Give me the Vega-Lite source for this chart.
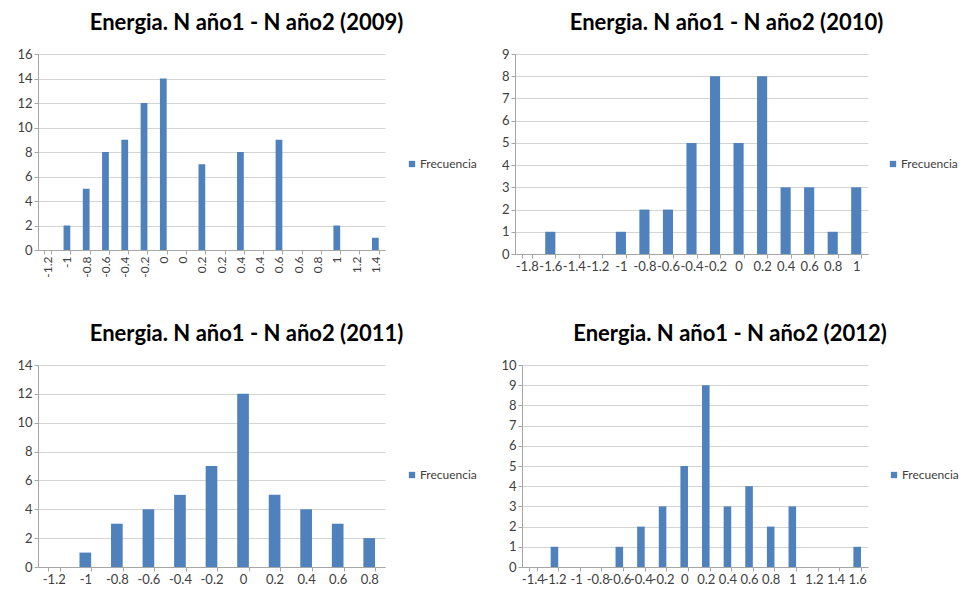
{
  "$schema": "https://vega.github.io/schema/vega-lite/v6.json",
  "background": "white",
  "padding": {"left": 8, "top": 12, "right": 0, "bottom": 0},
  "config": {
    "font": "Lato",
    "view": {"stroke": null},
    "title": {"font": "Lato", "fontWeight": "bold", "fontSize": 22, "color": "#000000", "anchor": "middle", "dx": 35, "offset": 13},
    "axis": {"labelFont": "Lato", "labelFontSize": 13, "labelColor": "#404040", "domainColor": "#a6a6a6", "tickColor": "#a6a6a6", "gridColor": "#d4d4d4", "tickSize": 4, "labelPadding": 2, "title": null},
    "legend": {"labelFont": "Lato", "labelFontSize": 12, "labelColor": "#404040", "symbolType": "square", "symbolSize": 40, "symbolStrokeWidth": 0, "labelOffset": 2, "title": null, "orient": "none"}
  },
  "datasets": {
    "y2009": [
      {"clase": "01|-1.2", "frecuencia": 0},
      {"clase": "02|-1", "frecuencia": 2},
      {"clase": "03|-0.8", "frecuencia": 5},
      {"clase": "04|-0.6", "frecuencia": 8},
      {"clase": "05|-0.4", "frecuencia": 9},
      {"clase": "06|-0.2", "frecuencia": 12},
      {"clase": "07|0", "frecuencia": 14},
      {"clase": "08|0", "frecuencia": 0},
      {"clase": "09|0.2", "frecuencia": 7},
      {"clase": "10|0.2", "frecuencia": 0},
      {"clase": "11|0.4", "frecuencia": 8},
      {"clase": "12|0.4", "frecuencia": 0},
      {"clase": "13|0.6", "frecuencia": 9},
      {"clase": "14|0.6", "frecuencia": 0},
      {"clase": "15|0.8", "frecuencia": 0},
      {"clase": "16|1", "frecuencia": 2},
      {"clase": "17|1.2", "frecuencia": 0},
      {"clase": "18|1.4", "frecuencia": 1}
    ],
    "y2010": [
      {"clase": "-1.8", "frecuencia": 0},
      {"clase": "-1.6", "frecuencia": 1},
      {"clase": "-1.4", "frecuencia": 0},
      {"clase": "-1.2", "frecuencia": 0},
      {"clase": "-1", "frecuencia": 1},
      {"clase": "-0.8", "frecuencia": 2},
      {"clase": "-0.6", "frecuencia": 2},
      {"clase": "-0.4", "frecuencia": 5},
      {"clase": "-0.2", "frecuencia": 8},
      {"clase": "0", "frecuencia": 5},
      {"clase": "0.2", "frecuencia": 8},
      {"clase": "0.4", "frecuencia": 3},
      {"clase": "0.6", "frecuencia": 3},
      {"clase": "0.8", "frecuencia": 1},
      {"clase": "1", "frecuencia": 3}
    ],
    "y2011": [
      {"clase": "-1.2", "frecuencia": 0},
      {"clase": "-1", "frecuencia": 1},
      {"clase": "-0.8", "frecuencia": 3},
      {"clase": "-0.6", "frecuencia": 4},
      {"clase": "-0.4", "frecuencia": 5},
      {"clase": "-0.2", "frecuencia": 7},
      {"clase": "0", "frecuencia": 12},
      {"clase": "0.2", "frecuencia": 5},
      {"clase": "0.4", "frecuencia": 4},
      {"clase": "0.6", "frecuencia": 3},
      {"clase": "0.8", "frecuencia": 2}
    ],
    "y2012": [
      {"clase": "-1.4", "frecuencia": 0},
      {"clase": "-1.2", "frecuencia": 1},
      {"clase": "-1", "frecuencia": 0},
      {"clase": "-0.8", "frecuencia": 0},
      {"clase": "-0.6", "frecuencia": 1},
      {"clase": "-0.4", "frecuencia": 2},
      {"clase": "-0.2", "frecuencia": 3},
      {"clase": "0", "frecuencia": 5},
      {"clase": "0.2", "frecuencia": 9},
      {"clase": "0.4", "frecuencia": 3},
      {"clase": "0.6", "frecuencia": 4},
      {"clase": "0.8", "frecuencia": 2},
      {"clase": "1", "frecuencia": 3},
      {"clase": "1.2", "frecuencia": 0},
      {"clase": "1.4", "frecuencia": 0},
      {"clase": "1.6", "frecuencia": 1}
    ]
  },
  "spacing": 38,
  "resolve": {"scale": {"color": "independent", "x": "independent", "y": "independent"}, "legend": {"color": "independent"}},
  "vconcat": [
    {
      "spacing": 18,
      "resolve": {"scale": {"color": "independent", "x": "independent", "y": "independent"}, "legend": {"color": "independent"}},
      "hconcat": [
        {
          "title": "Energia. N año1 - N año2 (2009)",
          "width": 347, "height": 196,
          "data": {"name": "y2009"},
          "mark": {"type": "bar"},
          "encoding": {
            "x": {"field": "clase", "type": "ordinal", "sort": null,
                  "scale": {"paddingInner": 0.65, "paddingOuter": 0.325},
                  "axis": {"labelAngle": -90, "tickBand": "extent", "labelOverlap": false, "labelExpr": "split(datum.label, '|')[1]", "minExtent": 35, "maxExtent": 35, "labelFontSize": 12}},
            "y": {"field": "frecuencia", "type": "quantitative",
                  "scale": {"domain": [0, 16], "nice": false},
                  "axis": {"values": [0, 2, 4, 6, 8, 10, 12, 14, 16], "minExtent": 30, "maxExtent": 30}},
            "color": {"datum": "Frecuencia", "type": "nominal", "scale": {"range": ["#4F81BD"]},
                      "legend": {"legendX": 368, "legendY": 104}}
          }
        },
        {
          "title": "Energia. N año1 - N año2 (2010)",
          "width": 353, "height": 200,
          "data": {"name": "y2010"},
          "mark": {"type": "bar"},
          "encoding": {
            "x": {"field": "clase", "type": "ordinal", "sort": null,
                  "scale": {"paddingInner": 0.57, "paddingOuter": 0.285},
                  "axis": {"labelAngle": 0, "tickBand": "extent", "labelOverlap": false, "minExtent": 18, "maxExtent": 18}},
            "y": {"field": "frecuencia", "type": "quantitative",
                  "scale": {"domain": [0, 9], "nice": false},
                  "axis": {"values": [0, 1, 2, 3, 4, 5, 6, 7, 8, 9], "minExtent": 20, "maxExtent": 20}},
            "color": {"datum": "Frecuencia", "type": "nominal", "scale": {"range": ["#4F81BD"]},
                      "legend": {"legendX": 372, "legendY": 104}}
          }
        }
      ]
    },
    {
      "spacing": 18,
      "resolve": {"scale": {"color": "independent", "x": "independent", "y": "independent"}, "legend": {"color": "independent"}},
      "hconcat": [
        {
          "title": "Energia. N año1 - N año2 (2011)",
          "width": 347, "height": 202,
          "data": {"name": "y2011"},
          "mark": {"type": "bar"},
          "encoding": {
            "x": {"field": "clase", "type": "ordinal", "sort": null,
                  "scale": {"paddingInner": 0.63, "paddingOuter": 0.315},
                  "axis": {"labelAngle": 0, "tickBand": "extent", "labelOverlap": false, "minExtent": 18, "maxExtent": 18}},
            "y": {"field": "frecuencia", "type": "quantitative",
                  "scale": {"domain": [0, 14], "nice": false},
                  "axis": {"values": [0, 2, 4, 6, 8, 10, 12, 14], "minExtent": 30, "maxExtent": 30}},
            "color": {"datum": "Frecuencia", "type": "nominal", "scale": {"range": ["#4F81BD"]},
                      "legend": {"legendX": 368, "legendY": 104}}
          }
        },
        {
          "title": "Energia. N año1 - N año2 (2012)",
          "width": 346, "height": 202,
          "data": {"name": "y2012"},
          "mark": {"type": "bar"},
          "encoding": {
            "x": {"field": "clase", "type": "ordinal", "sort": null,
                  "scale": {"paddingInner": 0.65, "paddingOuter": 0.325},
                  "axis": {"labelAngle": 0, "tickBand": "extent", "labelOverlap": false, "minExtent": 18, "maxExtent": 18}},
            "y": {"field": "frecuencia", "type": "quantitative",
                  "scale": {"domain": [0, 10], "nice": false},
                  "axis": {"values": [0, 1, 2, 3, 4, 5, 6, 7, 8, 9, 10], "minExtent": 27, "maxExtent": 27}},
            "color": {"datum": "Frecuencia", "type": "nominal", "scale": {"range": ["#4F81BD"]},
                      "legend": {"legendX": 366, "legendY": 104}}
          }
        }
      ]
    }
  ]
}
